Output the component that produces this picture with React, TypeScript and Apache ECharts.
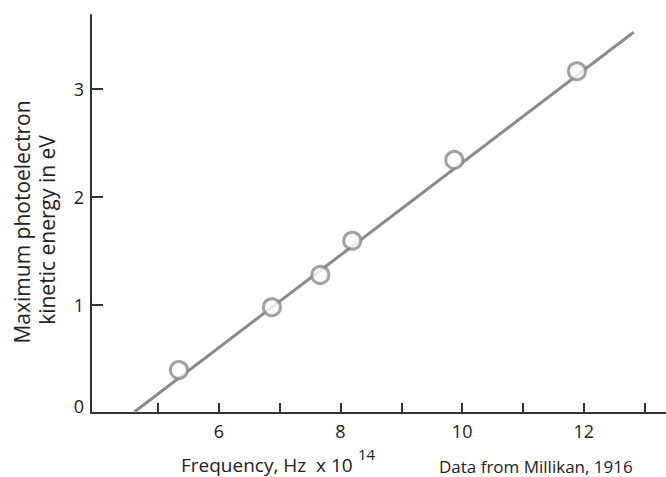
import React, { useEffect, useRef } from "react";
import * as echarts from "echarts";

const freqData = [5.345, 6.873, 7.669, 8.195, 9.871, 11.886];
const energyData = [0.398, 0.979, 1.278, 1.595, 2.343, 3.164];
const fitLineX = [4.616, 12.818];
const fitLineY = [0.012, 3.525];
const xTicks = [5, 6, 7, 8, 9, 10, 11, 12, 13];
const xLabels = [6, 8, 10, 12];
const yTicks = [1, 2, 3];
const yLabels = [0, 1, 2, 3];

const FONT = "'Open Sans', 'Noto Sans', sans-serif";
const GRAY = "#8a8a8a";
const AXIS = "#333333";

export default function App() {
  const ref = useRef<HTMLDivElement>(null);
  useEffect(() => {
    document.body.style.margin = "0";
    const chart = echarts.init(ref.current!, null, { renderer: "svg" });
    chart.setOption({
      animation: false,
      backgroundColor: "#ffffff",
      grid: { left: 91, right: 0, top: 15, bottom: 64 },
      xAxis: {
        type: "value",
        min: 3.9,
        max: 13.35,
        splitLine: { show: false },
        axisLine: { show: true, lineStyle: { color: AXIS, width: 2 } },
        axisTick: {
          show: true,
          inside: true,
          length: 10,
          customValues: xTicks,
          lineStyle: { color: AXIS, width: 2 },
        },
        axisLabel: {
          customValues: xLabels,
          color: "#222",
          fontSize: 18,
          fontFamily: FONT,
          margin: 9,
        },
      },
      yAxis: {
        type: "value",
        min: 0,
        max: 3.685,
        splitLine: { show: false },
        axisLine: { show: true, lineStyle: { color: AXIS, width: 2 } },
        axisTick: {
          show: true,
          inside: true,
          length: 12,
          customValues: yTicks,
          lineStyle: { color: AXIS, width: 2 },
        },
        axisLabel: {
          customValues: yLabels,
          color: "#222",
          fontSize: 18,
          fontFamily: FONT,
          margin: 7,
          formatter: (v: number) => (v === 0 ? "{z|0}" : String(v)),
          rich: {
            z: { fontSize: 18, fontFamily: FONT, color: "#222", padding: [0, 0, 14, 0] },
          },
        },
      },
      series: [
        {
          type: "line",
          data: fitLineX.map((x, i) => [x, fitLineY[i]]),
          symbol: "none",
          lineStyle: { color: GRAY, width: 3 },
          z: 1,
        },
        {
          type: "scatter",
          data: freqData.map((x, i) => [x, energyData[i]]),
          symbol: "circle",
          symbolSize: 17,
          itemStyle: { color: "#ffffff", borderColor: GRAY, borderWidth: 3 },
          z: 2,
        },
      ],
      graphic: [
        {
          type: "text",
          x: 22,
          y: 222,
          rotation: Math.PI / 2,
          style: {
            text: "Maximum photoelectron",
            fontSize: 21,
            fontFamily: FONT,
            fill: "#222",
            textAlign: "center",
            textVerticalAlign: "middle",
          },
        },
        {
          type: "text",
          x: 47,
          y: 230,
          rotation: Math.PI / 2,
          style: {
            text: "kinetic energy in eV",
            fontSize: 21,
            fontFamily: FONT,
            fill: "#222",
            textAlign: "center",
            textVerticalAlign: "middle",
          },
        },
        {
          type: "text",
          x: 181,
          y: 465,
          style: {
            text: "Frequency, Hz  x 10",
            fontSize: 19,
            fontFamily: FONT,
            fill: "#222",
            textAlign: "left",
            textVerticalAlign: "middle",
          },
        },
        {
          type: "text",
          x: 358,
          y: 454,
          style: {
            text: "14",
            fontSize: 15,
            fontFamily: FONT,
            fill: "#222",
            textAlign: "left",
            textVerticalAlign: "middle",
          },
        },
        {
          type: "text",
          x: 439,
          y: 466,
          style: {
            text: "Data from Millikan, 1916",
            fontSize: 17,
            fontFamily: FONT,
            fill: "#222",
            textAlign: "left",
            textVerticalAlign: "middle",
          },
        },
      ],
    });
    return () => chart.dispose();
  }, []);
  return <div ref={ref} style={{ width: 666, height: 477 }} />;
}
